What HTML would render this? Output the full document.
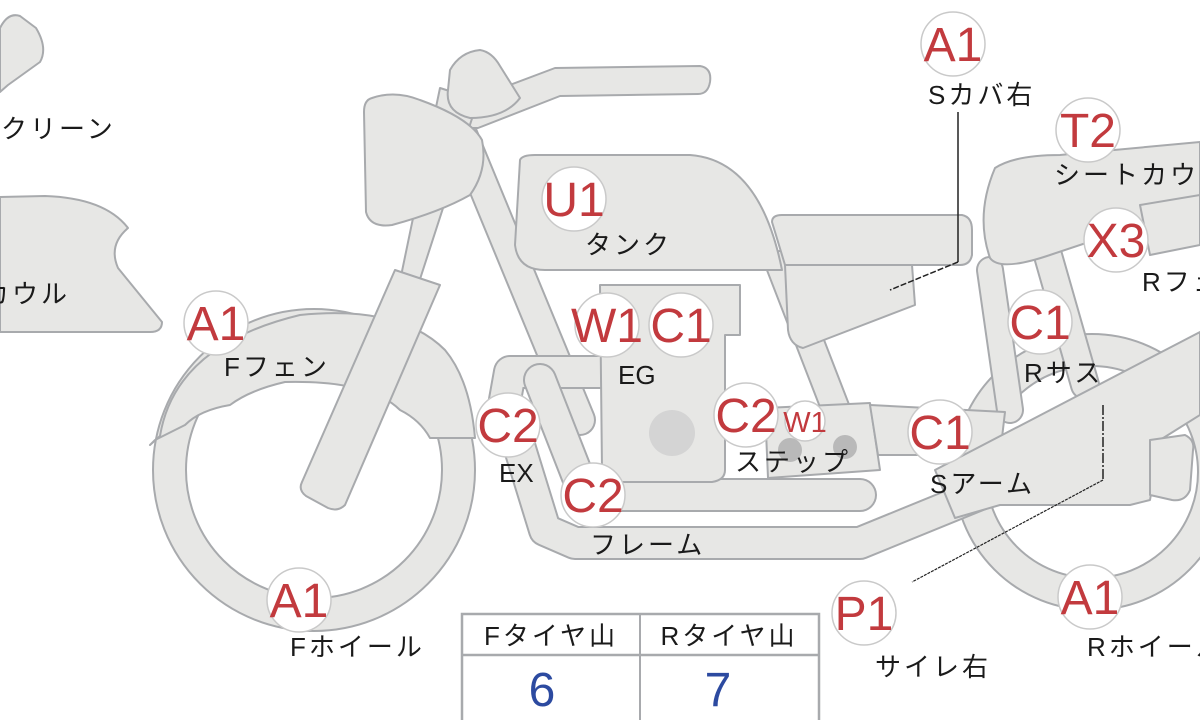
<!DOCTYPE html>
<html><head><meta charset="utf-8"><style>
html,body{margin:0;padding:0;background:#fff;width:1200px;height:720px;overflow:hidden}
svg{display:block}
.p{fill:#e7e7e5;stroke:#a8aaad;stroke-width:2;stroke-linejoin:round}
.o{fill:none;stroke:#a8aaad;stroke-linecap:round;stroke-linejoin:round}
.i{fill:none;stroke:#e7e7e5;stroke-linecap:round;stroke-linejoin:round}
.c{fill:#fff;stroke:#c9c9c9;stroke-width:1.5}
.r{fill:#c23a3e;font-family:"Liberation Sans","DejaVu Sans",sans-serif;font-size:48px;text-anchor:middle}
.t{fill:#1a1a1a;font-family:"Liberation Sans","Noto Sans CJK JP",sans-serif;font-size:26px;letter-spacing:3px}
.b{fill:#2c4aa0;font-family:"Liberation Sans",sans-serif;font-size:48px;text-anchor:middle}
</style></head><body>
<svg width="1200" height="720" viewBox="0 0 1200 720">
<path class="p" d="M0,28 Q8,12 20,16 L36,28 Q48,48 40,62 L8,85 L0,92 Z"/>
<path class="p" d="M0,197 L45,196 Q105,198 128,228 Q108,245 118,268 L162,322 Q162,332 150,332 L0,332 Z"/>
<path class="p" fill-rule="evenodd" d="M314,470 m-161,0 a161,161 0 1,0 322,0 a161,161 0 1,0 -322,0 Z M314,470 m-128,0 a128,128 0 1,0 256,0 a128,128 0 1,0 -256,0 Z"/>
<path class="p" d="M150,445 L160,436 Q175,345 300,315 Q400,305 445,350 Q470,380 475,438 L430,438 Q420,420 400,410 Q370,380 285,382 Q250,390 230,405 Q200,410 185,425 L155,440 Z"/>
<path class="p" fill-rule="evenodd" d="M1092,472 m-138,0 a138,138 0 1,0 276,0 a138,138 0 1,0 -276,0 Z M1092,472 m-106,0 a106,106 0 1,0 212,0 a106,106 0 1,0 -212,0 Z"/>
<g>
<polyline class="o" stroke-width="32" points="452,110 580,420"/>
<polyline class="i" stroke-width="28" points="452,110 580,420"/>
<polyline class="o" stroke-width="30" points="780,265 840,420"/>
<polyline class="i" stroke-width="26" points="780,265 840,420"/>
<polyline class="o" stroke-width="34" points="600,372 510,372 505,400 545,530 575,543 860,543 990,490"/>
<polyline class="i" stroke-width="30" points="600,372 510,372 505,400 545,530 575,543 860,543 990,490"/>
<polyline class="o" stroke-width="34" points="540,380 585,495 860,495"/>
<polyline class="i" stroke-width="30" points="540,380 585,495 860,495"/>
<polyline class="o" stroke-width="30" points="1045,245 1085,385"/>
<polyline class="i" stroke-width="26" points="1045,245 1085,385"/>
<polyline class="o" stroke-width="28" points="990,270 1010,410"/>
<polyline class="i" stroke-width="24" points="990,270 1010,410"/>
</g>
<path class="p" d="M455,128 L470,100 L555,68 L700,66 Q712,68 710,82 Q708,94 698,94 L560,96 L478,128 Z"/>
<path class="p" d="M440,88 L478,100 L410,310 L395,305 Z"/>
<path class="p" d="M395,270 L440,285 L345,505 Q338,512 328,508 L306,496 Q298,490 302,482 Z"/>
<path class="p" d="M450,70 Q460,52 480,50 Q492,52 500,66 L520,98 Q505,118 470,118 Q445,112 448,90 Z"/>
<path class="p" d="M372,98 Q395,90 420,100 Q470,118 482,140 Q488,170 470,195 Q440,212 392,225 Q370,228 366,212 L364,112 Q364,100 372,98 Z"/>
<path class="p" d="M520,160 Q522,155 535,155 L690,155 Q760,160 782,270 L545,270 Q518,270 515,245 Z"/>
<path class="p" d="M600,285 L740,285 L740,335 L725,335 L725,470 Q725,480 712,482 L615,482 Q602,480 602,470 Z"/>
<circle cx="672" cy="433" r="23" fill="#d4d4d4"/>
<path class="p" d="M765,408 L870,403 L880,470 L768,478 Z"/>
<circle cx="790" cy="450" r="12" fill="#b9b9b9"/>
<circle cx="845" cy="447" r="12" fill="#b9b9b9"/>
<path class="p" d="M870,405 L1005,412 L1000,455 L878,455 Z"/>
<path class="p" d="M935,470 L1200,332 L1200,415 L1160,440 L1150,500 L1130,505 L1000,505 L955,518 Z"/>
<path class="p" d="M1150,440 L1185,435 Q1195,440 1193,450 L1190,490 Q1185,502 1172,500 L1150,495 Z"/>
<path class="p" d="M772,222 Q772,215 782,215 L962,215 Q972,217 972,230 L972,255 Q970,265 960,265 L785,265 Z"/>
<path class="p" d="M785,265 L912,265 L915,305 L803,348 Q790,345 788,330 Z"/>
<path class="p" d="M995,168 Q1015,155 1060,155 L1200,142 L1200,205 L1050,255 Q1000,272 990,258 Q975,215 995,168 Z"/>
<path class="p" d="M1140,205 L1200,195 L1200,245 L1150,255 Z"/>
<polyline fill="none" stroke="#222" stroke-width="1.5" points="958,112 958,262"/>
<polyline fill="none" stroke="#222" stroke-width="1.5" points="958,262 890,290" stroke-dasharray="6 2"/>
<polyline fill="none" stroke="#222" stroke-width="1.5" points="1103,405 1103,480" stroke-dasharray="10 2 2 2"/>
<polyline fill="none" stroke="#222" stroke-width="1.2" points="1103,480 912,582" stroke-dasharray="3 1"/>
<g>
<circle class="c" cx="216" cy="323" r="32"/><text class="r" x="216" y="340">A1</text>
<circle class="c" cx="574" cy="199" r="32"/><text class="r" x="574" y="216">U1</text>
<circle class="c" cx="607" cy="325" r="32"/><text class="r" x="607" y="342">W1</text>
<circle class="c" cx="681" cy="325" r="32"/><text class="r" x="681" y="342">C1</text>
<circle class="c" cx="508" cy="425" r="32"/><text class="r" x="508" y="442">C2</text>
<circle class="c" cx="746" cy="415" r="32"/><text class="r" x="746" y="432">C2</text>
<circle class="c" cx="805" cy="421" r="20"/><text class="r" x="805" y="432" style="font-size:29px">W1</text>
<circle class="c" cx="593" cy="495" r="32"/><text class="r" x="593" y="512">C2</text>
<circle class="c" cx="940" cy="432" r="32"/><text class="r" x="940" y="449">C1</text>
<circle class="c" cx="1040" cy="322" r="32"/><text class="r" x="1040" y="339">C1</text>
<circle class="c" cx="1116" cy="240" r="32"/><text class="r" x="1116" y="257">X3</text>
<circle class="c" cx="1088" cy="130" r="32"/><text class="r" x="1088" y="147">T2</text>
<circle class="c" cx="953" cy="44" r="32"/><text class="r" x="953" y="61">A1</text>
<circle class="c" cx="299" cy="600" r="32"/><text class="r" x="299" y="617">A1</text>
<circle class="c" cx="864" cy="613" r="32"/><text class="r" x="864" y="630">P1</text>
<circle class="c" cx="1090" cy="597" r="32"/><text class="r" x="1090" y="614">A1</text>
</g>
<text class="t" x="-28" y="138">スクリーン</text>
<text class="t" x="70" y="303" text-anchor="end">Fカウル</text>
<text class="t" x="224" y="376">Fフェン</text>
<text class="t" x="585" y="254">タンク</text>
<text class="t" x="618" y="384" style="letter-spacing:0">EG</text>
<text class="t" x="499" y="482" style="letter-spacing:0">EX</text>
<text class="t" x="735" y="471">ステップ</text>
<text class="t" x="590" y="554">フレーム</text>
<text class="t" x="930" y="493">Sアーム</text>
<text class="t" x="1024" y="382">Rサス</text>
<text class="t" x="928" y="104">Sカバ右</text>
<text class="t" x="1054" y="184">シートカウル</text>
<text class="t" x="1142" y="291">Rフェン</text>
<text class="t" x="290" y="656">Fホイール</text>
<text class="t" x="875" y="676">サイレ右</text>
<text class="t" x="1087" y="656">Rホイール</text>
<rect x="462" y="614" width="357" height="110" fill="#fff" stroke="#a8aaad" stroke-width="2.5"/>
<line x1="462" y1="655" x2="819" y2="655" stroke="#a8aaad" stroke-width="2.5"/>
<line x1="640" y1="614" x2="640" y2="720" stroke="#a8aaad" stroke-width="2"/>
<text class="t" x="551" y="645" text-anchor="middle">Fタイヤ山</text>
<text class="t" x="729" y="645" text-anchor="middle">Rタイヤ山</text>
<text class="b" x="542" y="706">6</text>
<text class="b" x="718" y="706">7</text>
</svg>
</body></html>
